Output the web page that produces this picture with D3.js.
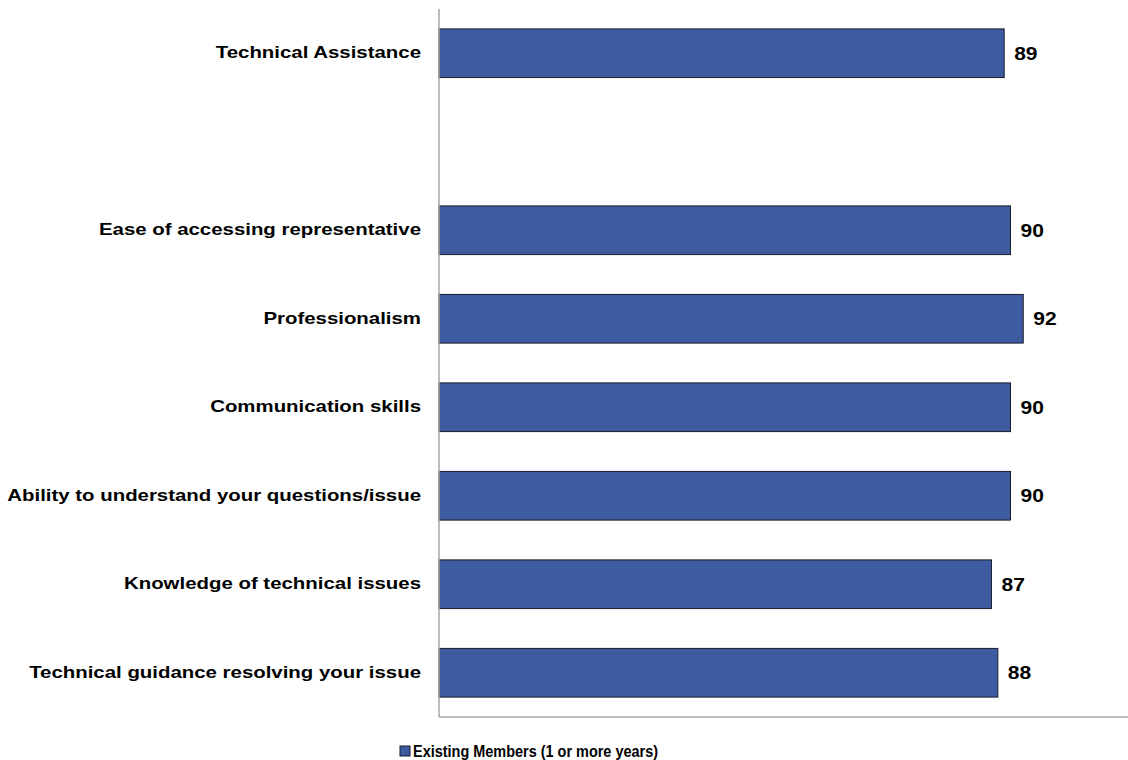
<!DOCTYPE html>
<html>
<head>
<meta charset="utf-8">
<script src="https://cdn.jsdelivr.net/npm/d3@7"></script>
<style>
    body { margin: 0; background: #fff; }
    svg { display: block; font-family: Arial, "Liberation Sans", sans-serif; }
</style>
</head>
<body>
<svg width="1128" height="760"></svg>
<script>
// categories top to bottom; "" is the empty slot under Technical Assistance
const categories = ["Technical Assistance",
    "",
    "Ease of accessing representative",
    "Professionalism",
    "Communication skills",
    "Ability to understand your questions/issue",
    "Knowledge of technical issues",
    "Technical guidance resolving your issue"];
const values = [89, null, 90, 92, 90, 90, 87, 88];
const seriesName = "Existing Members (1 or more years)";

const svg = d3.select("svg"),
    width = +svg.attr("width"),
    height = +svg.attr("height");

const plotLeft = 439, plotTop = 9, plotBottom = 717;
const stretch = 1.2; // the source text is drawn a bit wide

const x = d3.scaleLinear()
    .domain([0, 108.5])
    .range([plotLeft, width]);

const y = d3.scaleBand()
    .domain(categories.map((c, i) => i))
    .range([plotTop, plotBottom])
    .paddingInner(0.45)
    .paddingOuter(0.225);

const rows = categories.map((c, i) => ({name: c, value: values[i], i: i}));

// widen text glyphs horizontally
function widen(sel) {
    sel.each(function () {
        const w = this.getComputedTextLength();
        d3.select(this)
            .attr("textLength", w * stretch)
            .attr("lengthAdjust", "spacingAndGlyphs");
    });
}

// bars
svg.append("g")
    .selectAll("rect")
    .data(rows.filter(d => d.value != null))
    .enter().append("rect")
    .attr("x", x(0))
    .attr("y", d => y(d.i))
    .attr("width", d => x(d.value) - x(0))
    .attr("height", y.bandwidth())
    .attr("fill", "#3D5BA1")
    .attr("stroke", "#1b1b2b")
    .attr("stroke-width", 1);

// axes (plain lines, no ticks)
svg.append("line")
    .attr("x1", plotLeft).attr("x2", plotLeft)
    .attr("y1", plotTop).attr("y2", plotBottom)
    .attr("stroke", "#a6a6a6").attr("stroke-width", 1.5);
svg.append("line")
    .attr("x1", plotLeft).attr("x2", width)
    .attr("y1", plotBottom).attr("y2", plotBottom)
    .attr("stroke", "#a6a6a6").attr("stroke-width", 1.5);

// category labels
svg.append("g")
    .selectAll("text")
    .data(rows.filter(d => d.name))
    .enter().append("text")
    .attr("x", 421)
    .attr("y", d => y(d.i) + y.bandwidth() / 2)
    .attr("dy", "0.3em")
    .attr("text-anchor", "end")
    .attr("font-size", 17)
    .attr("font-weight", "bold")
    .attr("fill", "#000")
    .text(d => d.name)
    .call(widen);

// value labels
svg.append("g")
    .selectAll("text")
    .data(rows.filter(d => d.value != null))
    .enter().append("text")
    .attr("x", d => x(d.value) + 10)
    .attr("y", d => y(d.i) + y.bandwidth() / 2)
    .attr("dy", "0.36em")
    .attr("font-size", 17.5)
    .attr("font-weight", "bold")
    .attr("fill", "#000")
    .text(d => d.value)
    .call(widen);

// legend
const legend = svg.append("g").attr("transform", "translate(400,746)");
legend.append("rect")
    .attr("width", 10).attr("height", 10)
    .attr("fill", "#3D5BA1")
    .attr("stroke", "#1b1b2b");
legend.append("text")
    .attr("x", 13)
    .attr("y", 11)
    .attr("font-size", 16.5)
    .attr("font-weight", "bold")
    .attr("textLength", 245)
    .attr("lengthAdjust", "spacingAndGlyphs")
    .text(seriesName);
</script>
</body>
</html>
